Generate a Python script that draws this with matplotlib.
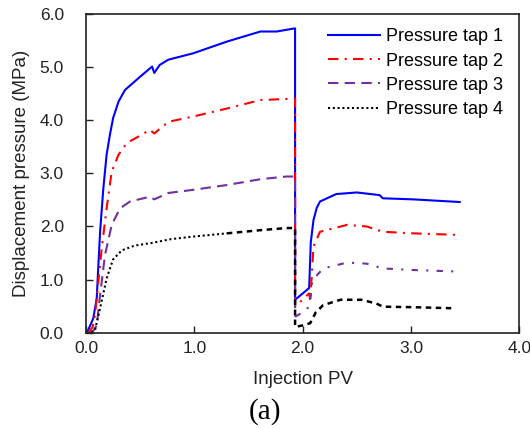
import matplotlib
matplotlib.use("Agg")
import matplotlib.pyplot as plt
import numpy as np

# Displacement pressure at four taps vs injected pore volumes
tap1_x = [0.01, 0.02, 0.067, 0.099, 0.114, 0.13, 0.16, 0.19, 0.22, 0.25, 0.30, 0.36, 0.50,
          0.61, 0.63, 0.68, 0.76, 0.99, 1.30, 1.61, 1.76, 1.93, 1.93, 2.06, 2.075, 2.10,
          2.13, 2.16, 2.31, 2.50, 2.71, 2.74, 3.02, 3.45]
tap1_y = [0.0, 0.05, 0.27, 0.65, 1.27, 1.90, 2.72, 3.35, 3.72, 4.04, 4.35, 4.57, 4.82,
          5.01, 4.89, 5.04, 5.14, 5.26, 5.48, 5.67, 5.67, 5.73, 0.62, 0.84, 1.70, 2.12,
          2.35, 2.47, 2.61, 2.64, 2.59, 2.53, 2.51, 2.46]

tap2_x = [0.02, 0.06, 0.083, 0.114, 0.145, 0.19, 0.237, 0.30, 0.376, 0.50, 0.59, 0.63,
          0.76, 0.99, 1.30, 1.61, 1.85, 1.93, 1.93, 2.06, 2.07, 2.10, 2.16, 2.41, 2.59,
          2.74, 3.02, 3.45]
tap2_y = [0.0, 0.10, 0.33, 0.96, 1.59, 2.34, 3.03, 3.35, 3.57, 3.71, 3.82, 3.75,
          3.97, 4.07, 4.22, 4.38, 4.40, 4.41, 0.49, 0.74, 0.60, 1.62, 1.90, 2.03, 2.00,
          1.90, 1.87, 1.84]

tap3_x = [0.03, 0.07, 0.099, 0.13, 0.175, 0.237, 0.314, 0.406, 0.59, 0.63, 0.76, 0.99,
          1.30, 1.61, 1.85, 1.93, 1.93, 2.04, 2.07, 2.09, 2.19, 2.41, 2.59, 2.74, 3.02, 3.45]
tap3_y = [0.0, 0.04, 0.14, 0.71, 1.46, 2.03, 2.34, 2.47, 2.56, 2.51, 2.63, 2.69,
          2.78, 2.89, 2.94, 2.94, 0.30, 0.43, 0.60, 0.99, 1.21, 1.32, 1.30, 1.21, 1.18, 1.15]

tap4_x = [0.05, 0.083, 0.13, 0.19, 0.25, 0.33, 0.45, 0.61, 0.78, 0.99, 1.30, 1.61, 1.85,
          1.93, 1.93, 2.01, 2.07, 2.12, 2.19, 2.35, 2.54, 2.68, 2.74, 3.02, 3.39]
tap4_y = [0.0, 0.05, 0.46, 1.02, 1.38, 1.55, 1.64, 1.69, 1.76, 1.81, 1.87, 1.93, 1.97,
          1.97, 0.11, 0.14, 0.18, 0.38, 0.52, 0.62, 0.62, 0.55, 0.49, 0.48, 0.46]

x_ticks = [0.0, 1.0, 2.0, 3.0, 4.0]
y_ticks = [0.0, 1.0, 2.0, 3.0, 4.0, 5.0, 6.0]

plt.rcParams['font.family'] = ['Liberation Sans', 'DejaVu Sans']
TXT = '#222222'

fig = plt.figure(figsize=(5.30, 4.29), dpi=100)
ax = fig.add_axes([0.1623, 0.2245, 0.8175, 0.7429])


def split_at(xs, ys, x_split, after_drop=False):
    """Split a series into a head and a tail sharing one point."""
    xs = np.asarray(xs)
    ys = np.asarray(ys)
    if after_drop:
        idx = int(np.where(np.diff(xs) == 0)[0][0]) + 1
    else:
        idx = int(np.searchsorted(xs, x_split))
    return (xs[:idx + 1], ys[:idx + 1]), (xs[idx:], ys[idx:])


LW = 1.5
ax.plot(tap1_x, tap1_y, color='#0000ff', lw=LW, ls='-', label='Pressure tap 1')
ax.plot(tap2_x, tap2_y, color='#ff0000', lw=LW, ls=(0, (5, 3, 1, 3)), label='Pressure tap 2')

(h3x, h3y), (t3x, t3y) = split_at(tap3_x, tap3_y, None, after_drop=True)
ax.plot(h3x, h3y, color='#7030a0', lw=LW, ls=(0, (5, 3)), label='Pressure tap 3')
ax.plot(t3x, t3y, color='#7030a0', lw=LW, ls=(0, (3, 4, 1, 4)))

(h4x, h4y), (t4x, t4y) = split_at(tap4_x, tap4_y, 1.0)
ax.plot(h4x, h4y, color='#000000', lw=LW, ls=(0, (1, 1.3)), label='Pressure tap 4')
ax.plot(t4x, t4y, color='#000000', lw=1.8, ls=(0, (2.2, 1.8)))

ax.set_xlim(0, 4.0)
ax.set_ylim(0, 6.0)
ax.set_xticks(x_ticks)
ax.set_yticks(y_ticks)
ax.set_xticklabels([f"{v:.1f}" for v in x_ticks])
ax.set_yticklabels([f"{v:.1f}" for v in y_ticks])
ax.tick_params(direction='in', length=5, width=1, labelsize=12.5, colors=TXT)
ax.tick_params(axis='x', pad=6)
ax.tick_params(axis='y', pad=16)
for s in ax.spines.values():
    s.set_linewidth(1.2)
    s.set_color(TXT)

ax.set_xlabel('Injection PV', fontsize=13.5, color=TXT, labelpad=11)
ax.set_ylabel('Displacement pressure (MPa)', fontsize=13.5, color=TXT, labelpad=7)

ax.legend(loc='upper right', frameon=False, fontsize=13, handlelength=2.9,
          handletextpad=0.33, labelspacing=0.4, borderaxespad=0, borderpad=0,
          bbox_to_anchor=(0.962, 0.955))

fig.text(0.5, 1 - 412 / 429, '(a)', ha='center', va='center', fontsize=21,
         family=['Liberation Serif', 'DejaVu Serif'])

fig.savefig('out.png', dpi=100)
